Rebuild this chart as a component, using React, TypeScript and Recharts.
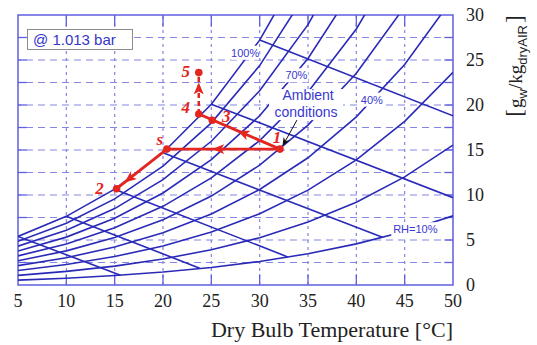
import React from 'react';
import {
  ComposedChart,
  Line,
  XAxis,
  YAxis,
  ReferenceLine,
  ReferenceArea,
  ReferenceDot,
} from 'recharts';

// dry bulb temperatures (°C) used for the RH curves
const temps = [5, 10, 15, 20, 25, 30, 35, 40, 45, 50];

// humidity ratio [g/kg], one list per RH curve
const rh100 = [5.4, 7.63, 10.65, 14.7, 20.09, 27.21, 36.6];
const rh90 = [4.86, 6.86, 9.57, 13.2, 18.02, 24.38, 32.74];
const rh80 = [4.32, 6.09, 8.49, 11.7, 15.97, 21.58, 28.93, 38.5];
const rh70 = [3.77, 5.32, 7.42, 10.22, 13.93, 18.8, 25.17, 33.44];
const rh60 = [3.23, 4.56, 6.35, 8.74, 11.9, 16.05, 21.45, 28.45, 37.5];
const rh50 = [2.69, 3.79, 5.28, 7.26, 9.88, 13.31, 17.77, 23.53, 30.92];
const rh40 = [2.15, 3.03, 4.22, 5.8, 7.88, 10.61, 14.14, 18.68, 24.49, 31.89];
const rh30 = [1.61, 2.27, 3.16, 4.34, 5.89, 7.92, 10.54, 13.91, 18.19, 23.62];
const rh20 = [1.07, 1.51, 2.1, 2.89, 3.92, 5.26, 6.99, 9.2, 12.01, 15.55];
const rh10 = [0.54, 0.75, 1.05, 1.44, 1.95, 2.62, 3.47, 4.57, 5.95, 7.68];

// wet bulb lines (start on saturation, end on RH=10% or the right border)
const wetBulb5 = [{ t: 5, w: 5.4 }, { t: 15.6, w: 1.08 }];
const wetBulb10 = [{ t: 10, w: 7.63 }, { t: 23.8, w: 1.87 }];
const wetBulb15 = [{ t: 15, w: 10.65 }, { t: 32.9, w: 3.12 }];
const wetBulb20 = [{ t: 20, w: 14.7 }, { t: 42.7, w: 5.3 }];
const wetBulb25 = [{ t: 25, w: 20.09 }, { t: 50, w: 9.7 }];
const wetBulb30 = [{ t: 30, w: 27.21 }, { t: 50, w: 18.8 }];

// process states
const states = [
  { id: '1', t: 32.1, w: 15.1 },
  { id: 's', t: 20.4, w: 15.1 },
  { id: '2', t: 15.2, w: 10.7 },
  { id: '3', t: 25.1, w: 18.3 },
  { id: '4', t: 23.7, w: 19.0 },
  { id: '5', t: 23.7, w: 23.6 },
];

// process paths, middle point = arrow tip
const path1toS = [{ t: 32.1, w: 15.1 }, { t: 25.2, w: 15.1 }, { t: 20.4, w: 15.1 }];
const pathSto2 = [{ t: 20.4, w: 15.1 }, { t: 16.1, w: 11.46 }, { t: 15.2, w: 10.7 }];
const path1to4 = [{ t: 32.1, w: 15.1 }, { t: 27.8, w: 17.1 }, { t: 23.7, w: 19.0 }];
const path4to5 = [{ t: 23.7, w: 19.0 }, { t: 23.7, w: 22.4 }, { t: 23.7, w: 23.6 }];
const ambientPointer = [{ t: 34.0, w: 18.6 }, { t: 32.4, w: 15.5 }];

const xTicks = [5, 10, 15, 20, 25, 30, 35, 40, 45, 50];
const yTicks = [0, 5, 10, 15, 20, 25, 30];
const gridX = [10, 15, 20, 25, 30, 35, 40, 45];
const gridY = [2.5, 5, 7.5, 10, 12.5, 15, 17.5, 20, 22.5, 25, 27.5];

const curveNotes = [
  { text: '100%', t: 28.5, w: 25.8 },
  { text: '70%', t: 33.8, w: 23.3 },
  { text: '40%', t: 41.6, w: 20.6 },
  { text: 'RH=10%', t: 46.1, w: 6.2 },
];

const CURVE = '#2a2ab8';
const GRID = '#8585e2';
const FRAME = '#5f5fe0';
const RED = '#e3261f';
const NOTE = '#3838d2';
const SERIF = "'Liberation Serif', 'Times New Roman', serif";
const SANS = "'Liberation Sans', Arial, sans-serif";

const tagOffset: Record<string, [number, number]> = {
  '1': [-3, -12],
  s: [-7, -10],
  '2': [-17, 0],
  '3': [14, -4],
  '4': [-13, -7],
  '5': [-13, -1],
};

const noteWidth: Record<string, number> = { '100%': 28, '70%': 23, '40%': 23, 'RH=10%': 48 };

const toSeries = (vals: number[]) => vals.map((w, i) => ({ t: temps[i], w }));
const rhCurves = [rh100, rh90, rh80, rh70, rh60, rh50, rh40, rh30, rh20, rh10].map(toSeries);
const wetBulbLines = [wetBulb5, wetBulb10, wetBulb15, wetBulb20, wetBulb25, wetBulb30];

function center(viewBox: any) {
  return { cx: viewBox.x + (viewBox.width || 0) / 2, cy: viewBox.y + (viewBox.height || 0) / 2 };
}

function StateTag(props: any) {
  const { cx, cy } = center(props.viewBox);
  const [dx, dy] = tagOffset[props.text];
  return (
    <text
      x={cx + dx}
      y={cy + dy}
      textAnchor='middle'
      dominantBaseline='central'
      fontFamily={SERIF}
      fontStyle='italic'
      fontWeight='bold'
      fontSize={17}
      fill={RED}
    >
      {props.text}
    </text>
  );
}

function CurveNote(props: any) {
  const { cx, cy } = center(props.viewBox);
  const w = noteWidth[props.text];
  return (
    <g>
      <rect x={cx - w / 2} y={cy - 7} width={w} height={14} fill='#fff' />
      <text x={cx} y={cy} textAnchor='middle' dominantBaseline='central' fontFamily={SANS} fontSize={11} fill={NOTE}>
        {props.text}
      </text>
    </g>
  );
}

function AmbientNote(props: any) {
  const { cx, cy } = center(props.viewBox);
  return (
    <g>
      <rect x={cx - 37} y={cy - 15} width={74} height={31} fill='#fff' />
      <text x={cx + 2} y={cy - 4} textAnchor='middle' fontFamily={SANS} fontSize={14} fill={NOTE}>
        Ambient
      </text>
      <text x={cx} y={cy + 13} textAnchor='middle' fontFamily={SANS} fontSize={14} fill={NOTE}>
        conditions
      </text>
    </g>
  );
}

function XTitle(props: any) {
  const vb = props.viewBox;
  return (
    <text x={vb.x + vb.width} y={vb.y + 52} textAnchor='end' fontFamily={SERIF} fontSize={22} fill='#222'>
      Dry Bulb Temperature [°C]
    </text>
  );
}

function YTitle(props: any) {
  const vb = props.viewBox;
  const x = vb.x + 69;
  const y = vb.y + 51;
  return (
    <text x={x} y={y} transform={`rotate(-90 ${x} ${y})`} textAnchor='middle' fontFamily={SERIF} fontSize={19} fill='#222'>
      <tspan fontSize={23}>[</tspan>
      <tspan dx={1}>g</tspan>
      <tspan dy={5} fontSize={13} fontFamily={SANS}>w</tspan>
      <tspan dy={-5}>/kg</tspan>
      <tspan dy={5} fontSize={13} fontFamily={SANS}>dryAIR</tspan>
      <tspan dy={-5} dx={2} fontSize={23}>]</tspan>
    </text>
  );
}

function XTick(props: any) {
  return (
    <text x={props.x} y={props.y} dy={13} textAnchor='middle' fontFamily={SERIF} fontSize={18} fill='#222'>
      {props.payload.value}
    </text>
  );
}

function YTick(props: any) {
  return (
    <text x={props.x} y={props.y} dy={6} textAnchor='start' fontFamily={SERIF} fontSize={18} fill='#222'>
      {props.payload.value}
    </text>
  );
}

export default function App() {
  return (
    <div style={{ position: 'absolute', left: 0, top: 0, width: 537, height: 345, background: '#fff' }}>
      <svg width={0} height={0} style={{ position: 'absolute' }}>
        <defs>
          <marker
            id='arrowRed'
            viewBox='0 0 12 10'
            refX='11'
            refY='5'
            markerWidth='12'
            markerHeight='10'
            markerUnits='userSpaceOnUse'
            orient='auto'
          >
            <path d='M0,0 L12,5 L0,10 L3,5 z' fill={RED} />
          </marker>
          <marker
            id='arrowBlack'
            viewBox='0 0 10 8'
            refX='9'
            refY='4'
            markerWidth='9'
            markerHeight='7'
            markerUnits='userSpaceOnUse'
            orient='auto'
          >
            <path d='M0,0 L10,4 L0,8 L3,4 z' fill='#111' />
          </marker>
        </defs>
      </svg>
      <ComposedChart width={537} height={345} margin={{ top: 15, right: 0, bottom: 10, left: 18 }}>
        <XAxis
          type='number'
          dataKey='t'
          domain={[5, 50]}
          ticks={xTicks}
          interval={0}
          allowDataOverflow
          axisLine={false}
          tickLine={false}
          tickSize={6}
          tickMargin={3}
          height={50}
          tick={<XTick />}
          label={<XTitle />}
        />
        <YAxis
          type='number'
          orientation='right'
          domain={[0, 30]}
          ticks={yTicks}
          interval={0}
          allowDataOverflow
          axisLine={false}
          tickLine={false}
          tickSize={6}
          tickMargin={7}
          width={84}
          tick={<YTick />}
          label={<YTitle />}
        />

        {gridY.map((v) => (
          <ReferenceLine key={`gy${v}`} y={v} stroke={GRID} strokeWidth={1.2} strokeDasharray='7 5' />
        ))}
        {gridX.map((v) => (
          <ReferenceLine key={`gx${v}`} x={v} stroke={GRID} strokeWidth={1.2} strokeDasharray='3 4' />
        ))}
        {gridX.map((v) => (
          <ReferenceLine key={`tt${v}`} segment={[{ x: v, y: 30 }, { x: v, y: 28.7 }]} stroke={FRAME} strokeWidth={1.3} />
        ))}
        {gridX.map((v) => (
          <ReferenceLine key={`tb${v}`} segment={[{ x: v, y: 0 }, { x: v, y: 1.2 }]} stroke={FRAME} strokeWidth={1.3} />
        ))}
        {gridY.map((v) => (
          <ReferenceLine key={`tl${v}`} segment={[{ x: 5, y: v }, { x: 5.9, y: v }]} stroke={FRAME} strokeWidth={1.3} />
        ))}
        {gridY.map((v) => (
          <ReferenceLine key={`tr${v}`} segment={[{ x: 50, y: v }, { x: 49.1, y: v }]} stroke={FRAME} strokeWidth={1.3} />
        ))}

        {rhCurves.map((data, i) => (
          <Line
            key={`rh${i}`}
            data={data}
            dataKey='w'
            type='linear'
            stroke={CURVE}
            strokeWidth={1.6}
            dot={false}
            activeDot={false}
            legendType='none'
            isAnimationActive={false}
          />
        ))}
        {wetBulbLines.map((data, i) => (
          <Line
            key={`wb${i}`}
            data={data}
            dataKey='w'
            type='linear'
            stroke={CURVE}
            strokeWidth={1.6}
            dot={false}
            activeDot={false}
            legendType='none'
            isAnimationActive={false}
          />
        ))}

        {curveNotes.map((n) => (
          <ReferenceDot key={n.text} x={n.t} y={n.w} r={0} stroke='none' fill='none' label={<CurveNote text={n.text} />} />
        ))}
        <ReferenceDot x={34.8} y={20.1} r={0} stroke='none' fill='none' label={<AmbientNote />} />

        {[path1toS, pathSto2, path1to4].map((data, i) => (
          <Line
            key={`p${i}`}
            data={data}
            dataKey='w'
            type='linear'
            stroke={RED}
            strokeWidth={2.8}
            markerMid='url(#arrowRed)'
            dot={false}
            activeDot={false}
            legendType='none'
            isAnimationActive={false}
          />
        ))}
        <Line
          data={path4to5}
          dataKey='w'
          type='linear'
          stroke={RED}
          strokeWidth={2.5}
          strokeDasharray='5 3'
          markerMid='url(#arrowRed)'
          dot={false}
          activeDot={false}
          legendType='none'
          isAnimationActive={false}
        />
        <Line
          data={ambientPointer}
          dataKey='w'
          type='linear'
          stroke='#111'
          strokeWidth={1}
          markerEnd='url(#arrowBlack)'
          dot={false}
          activeDot={false}
          legendType='none'
          isAnimationActive={false}
        />

        {states.map((s) => (
          <ReferenceDot key={s.id} x={s.t} y={s.w} r={3.8} fill={RED} stroke='none' label={<StateTag text={s.id} />} />
        ))}

        <ReferenceArea x1={5} x2={50} y1={0} y2={30} fill='none' stroke={FRAME} strokeWidth={1.5} />
      </ComposedChart>
      <div
        style={{
          position: 'absolute',
          left: 27,
          top: 29,
          width: 99,
          height: 19,
          border: '1.5px solid #8c8c8c',
          background: '#fff',
          fontFamily: SANS,
          fontSize: 15,
          lineHeight: '19px',
          color: '#3535c8',
          paddingLeft: 5,
          boxSizing: 'content-box',
        }}
      >
        @ 1.013 bar
      </div>
    </div>
  );
}
